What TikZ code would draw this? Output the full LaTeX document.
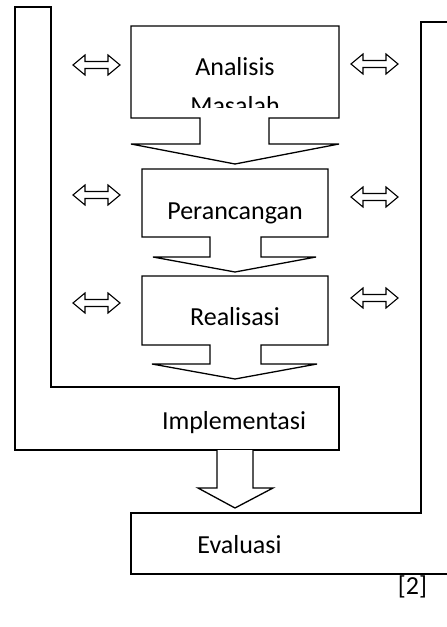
\documentclass[tikz,border=0pt]{standalone}
\usepackage{fontspec}
\setmainfont{Carlito}
\begin{document}
\begin{tikzpicture}[x=1pt,y=-1pt,
  outline/.style={draw=black,line width=1.3pt,fill=white,line join=miter},
  label/.style={anchor=base,inner sep=0pt,font=\fontsize{26}{31}\selectfont},
  pics/dblarrow/.style={code={
    \draw[outline,line width=1.1pt] (-23.5,0) -- (-11.5,-10) -- (-11.5,-3.5) -- (11.5,-3.5)
      -- (11.5,-10) -- (23.5,0) -- (11.5,10) -- (11.5,3.5) -- (-11.5,3.5) -- (-11.5,10) -- cycle;
  }}]
\useasboundingbox (0,0) rectangle (447,627);
\clip (0,0) rectangle (447,627);

% outer frame running down the right side to Evaluasi
\draw[outline] (470,22) -- (421,22) -- (421,513) -- (131,513) -- (131,574) -- (470,574);

% frame on the left ending in Implementasi
\draw[outline] (15,7) -- (51,7) -- (51,387) -- (339,387) -- (339,450) -- (15,450) -- cycle;

% arrow from Implementasi to Evaluasi
\draw[outline] (217,450) -- (217,488) -- (198,488) -- (235,508) -- (273,488) -- (253,488) -- (253,450);

% Analisis Masalah callout
\draw[outline] (131,26) -- (339,26) -- (339,118) -- (269,118) -- (269,144) -- (339,144)
  -- (235,164) -- (131,144) -- (200,144) -- (200,118) -- (131,118) -- cycle;

% Perancangan callout
\draw[outline] (142,169) -- (328,169) -- (328,237) -- (261,237) -- (261,257) -- (316,257)
  -- (235,272) -- (153,257) -- (210,257) -- (210,237) -- (142,237) -- cycle;

% Realisasi callout
\draw[outline] (142,276) -- (328,276) -- (328,345) -- (261,345) -- (261,364) -- (317,364)
  -- (235,379) -- (152,364) -- (210,364) -- (210,345) -- (142,345) -- cycle;

% two-way arrows beside each stage
\pic at (96.5,65) {dblarrow};
\pic at (96.5,195) {dblarrow};
\pic at (96.5,303) {dblarrow};
\pic at (374.5,64) {dblarrow};
\pic at (374.5,197) {dblarrow};
\pic at (374.5,298) {dblarrow};

% labels
\node[label] (analisis) at (235,75) {Analisis};
\begin{scope}
  \clip (132,27) rectangle (338,107.5);
  \node[label] (masalah) at (235,114) {Masalah};
\end{scope}
\node[label] (perancangan) at (235,219) {Perancangan};
\node[label] (realisasi) at (235,325) {Realisasi};
\node[label] (implementasi) at (234,429) {Implementasi};
\node[label] (evaluasi) at (239.5,553) {Evaluasi};
\node[label] (ref) at (412.5,594) {[2]};
\end{tikzpicture}
\end{document}
